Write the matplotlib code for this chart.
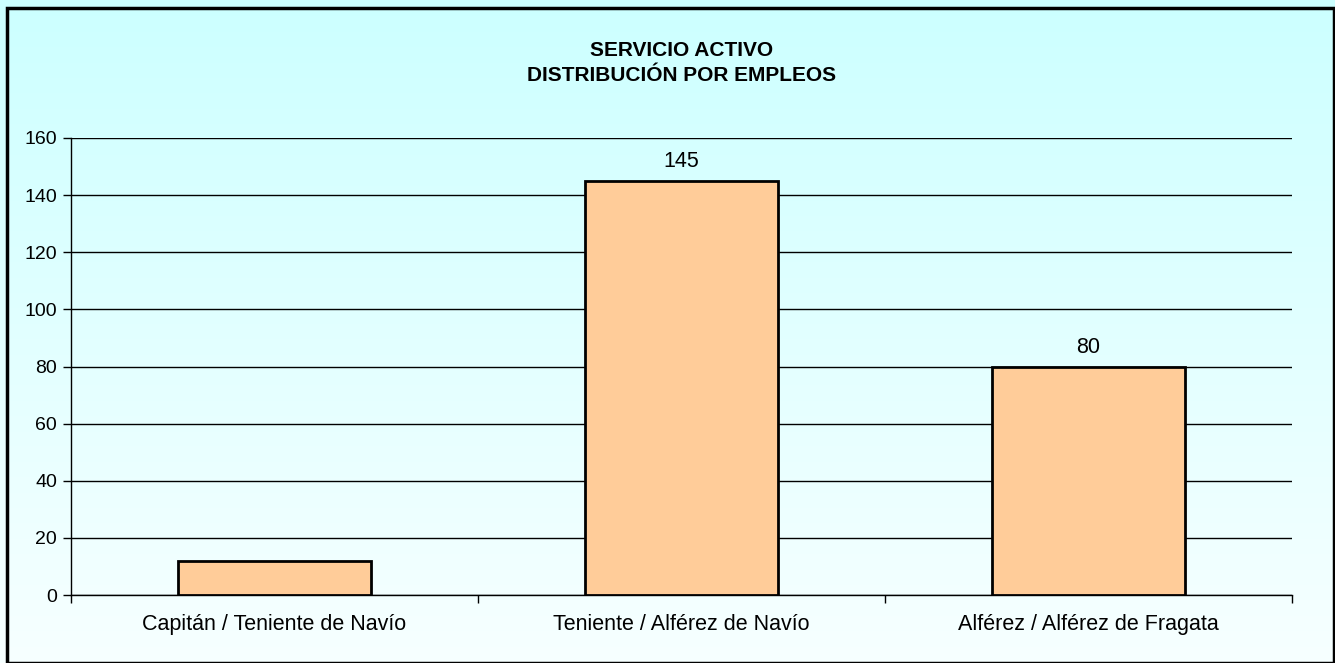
import numpy as np
import matplotlib.pyplot as plt
from matplotlib.colors import LinearSegmentedColormap
from matplotlib.patches import Rectangle

plt.rcParams['font.family'] = ['Liberation Sans', 'DejaVu Sans']

categories = ["Capitán / Teniente de Navío", "Teniente / Alférez de Navío", "Alférez / Alférez de Fragata"]
values = [12, 145, 80]
shown_labels = [None, "145", "80"]

fig = plt.figure(figsize=(13.35, 6.63), dpi=100)

# gradient background for the whole chart area
bg = fig.add_axes([0, 0, 1, 1], zorder=0)
grad = np.linspace(0, 1, 256).reshape(-1, 1)
cmap = LinearSegmentedColormap.from_list("bg", ["#CCFFFF", "#F7FFFF"])
bg.imshow(grad, aspect="auto", cmap=cmap, extent=[0, 1, 0, 1], origin="upper")
bg.set_xlim(0, 1)
bg.set_ylim(0, 1)
bg.axis("off")
bg.add_patch(Rectangle((7 / 1335, 0), 1 - 8 / 1335, 1 - 8 / 663, fill=False,
                       edgecolor="black", linewidth=2.5, transform=bg.transAxes))

ax = fig.add_axes([71 / 1335, 1 - 595 / 663, (1292 - 71) / 1335, (595 - 138) / 663], zorder=1)
ax.patch.set_alpha(0)

x = np.arange(len(categories))
bars = ax.bar(x, values, width=0.475, color="#FFCC99", edgecolor="black", linewidth=2, zorder=3)
for b, lab in zip(bars, shown_labels):
    if lab:
        ax.text(b.get_x() + b.get_width() / 2, b.get_height() + 3, lab,
                ha="center", va="bottom", fontsize=15.5)

ax.set_xlim(-0.5, len(categories) - 0.5)
ax.set_ylim(0, 160)
ax.set_yticks(np.arange(0, 161, 20))
ax.yaxis.grid(True, color="black", linewidth=1)
ax.set_axisbelow(True)
ax.tick_params(axis="y", labelsize=14, length=6, width=1, direction="out", pad=4)

# x ticks at category boundaries, labels centred on categories
ax.set_xticks(np.arange(-0.5, len(categories)), minor=False)
ax.set_xticklabels([])
ax.set_xticks(x, minor=True)
ax.set_xticklabels(categories, minor=True, fontsize=15.5)
ax.tick_params(axis="x", which="major", length=6, width=1, direction="out")
ax.tick_params(axis="x", which="minor", length=0, pad=14)

for s in ["top", "right"]:
    ax.spines[s].set_visible(False)
ax.spines["left"].set_linewidth(1)
ax.spines["bottom"].set_linewidth(1)

fig.text((71 + 1292) / 2 / 1335, 1 - 63 / 663, "SERVICIO ACTIVO\nDISTRIBUCIÓN POR EMPLEOS",
         ha="center", va="center", fontsize=15, fontweight="bold", linespacing=1.38)

fig.savefig("out.png", dpi=100)
